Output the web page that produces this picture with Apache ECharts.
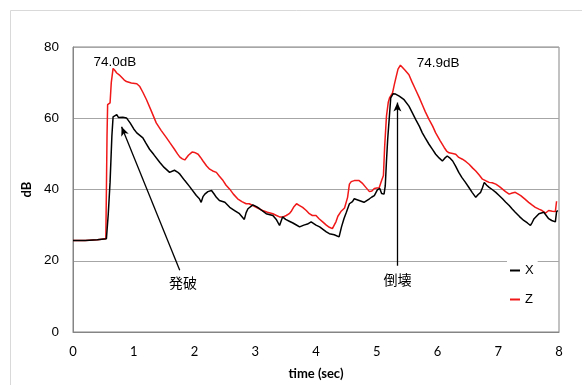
<!DOCTYPE html>
<html><head><meta charset="utf-8">
<script src="https://cdn.jsdelivr.net/npm/echarts@6/dist/echarts.min.js"></script>
<style>html,body{margin:0;padding:0;background:#fff}#c{width:582px;height:385px}</style>
</head><body><div id="c"></div>
<script>
var seriesNames = ['X', 'Z'];
var xTicks = [0, 1, 2, 3, 4, 5, 6, 7, 8];
var yTicks = [0, 20, 40, 60, 80];
// [time (sec), dB]
var dataX = [[0,25.7],[0.2,25.7],[0.4,25.9],[0.55,26.2],[0.58,33],[0.61,42],[0.64,55],[0.66,60.4],[0.69,60.8],[0.72,61.0],[0.75,60.2],[0.78,60.6],[0.82,60.3],[0.88,60.1],[0.94,58.7],[1.0,57.0],[1.05,55.9],[1.1,55.2],[1.15,54.5],[1.2,53.0],[1.26,51.3],[1.33,49.8],[1.43,47.6],[1.5,46.2],[1.59,44.8],[1.67,45.4],[1.72,44.9],[1.76,44.3],[1.84,42.5],[1.92,40.8],[2.03,38.3],[2.08,37.4],[2.11,36.4],[2.14,38.0],[2.17,38.7],[2.22,39.4],[2.28,39.7],[2.32,38.8],[2.36,37.8],[2.41,36.9],[2.5,36.4],[2.58,35.0],[2.66,34.1],[2.74,33.2],[2.82,31.6],[2.85,33.5],[2.88,34.6],[2.96,35.7],[3.02,35.2],[3.07,34.6],[3.18,33.2],[3.29,32.7],[3.35,31.5],[3.4,29.9],[3.45,32.3],[3.5,31.6],[3.56,31.1],[3.62,30.6],[3.67,30.1],[3.73,29.5],[3.8,30.0],[3.86,30.3],[3.92,30.9],[4.0,30.0],[4.06,29.5],[4.17,28.1],[4.22,27.6],[4.3,27.3],[4.38,26.7],[4.42,29.5],[4.46,31.8],[4.5,33.6],[4.55,36.0],[4.6,36.6],[4.63,37.4],[4.71,36.9],[4.79,36.4],[4.82,36.4],[4.88,37.4],[4.92,37.9],[4.96,38.3],[5.01,39.9],[5.05,40.3],[5.08,38.9],[5.12,38.7],[5.14,41],[5.16,48],[5.18,54.1],[5.21,61],[5.23,65.7],[5.27,66.9],[5.31,66.8],[5.37,66.2],[5.45,65.2],[5.53,63.4],[5.58,61.7],[5.64,59.7],[5.7,57.8],[5.75,55.9],[5.8,54.4],[5.86,52.7],[5.92,51.2],[5.97,49.9],[6.03,48.8],[6.08,48.0],[6.12,48.8],[6.16,49.4],[6.2,48.9],[6.25,48.0],[6.3,46.5],[6.35,44.8],[6.4,43.4],[6.46,42.0],[6.52,40.5],[6.57,39.2],[6.63,37.8],[6.67,38.6],[6.71,39.2],[6.74,40.5],[6.77,42.0],[6.81,41.2],[6.85,40.6],[6.9,40.0],[6.96,39.2],[7.01,38.4],[7.07,37.4],[7.12,36.5],[7.18,35.5],[7.23,34.5],[7.28,33.6],[7.35,32.4],[7.42,31.3],[7.48,30.6],[7.53,29.9],[7.56,30.8],[7.59,31.8],[7.63,32.5],[7.67,33.2],[7.71,33.4],[7.75,33.6],[7.79,32.7],[7.83,31.8],[7.88,31.3],[7.94,30.9],[7.96,33.8],[7.98,34.1]];
var dataZ = [[0,25.7],[0.2,25.7],[0.4,25.9],[0.54,26.2],[0.55,40],[0.56,55],[0.57,63.8],[0.61,64.3],[0.63,70],[0.66,74.0],[0.69,73.4],[0.72,72.7],[0.76,72.2],[0.8,71.5],[0.84,70.8],[0.88,70.3],[0.96,69.9],[1.05,69.7],[1.1,68.9],[1.15,67.3],[1.21,65.2],[1.29,62.0],[1.37,58.7],[1.45,56.6],[1.54,54.5],[1.6,53.0],[1.67,51.3],[1.72,50.0],[1.76,49.1],[1.8,48.6],[1.84,48.3],[1.9,49.6],[1.96,50.5],[2.0,50.4],[2.06,49.9],[2.1,49.0],[2.14,48.0],[2.2,46.6],[2.25,45.7],[2.3,45.2],[2.36,44.8],[2.41,43.7],[2.47,42.5],[2.52,41.2],[2.58,40.1],[2.64,38.7],[2.71,37.4],[2.78,36.6],[2.85,36.0],[2.9,36.0],[2.96,35.5],[3.04,34.8],[3.12,34.1],[3.2,33.6],[3.29,33.2],[3.35,32.7],[3.4,32.3],[3.46,32.3],[3.51,32.7],[3.56,33.2],[3.59,33.8],[3.63,35.0],[3.68,36.0],[3.73,35.5],[3.78,35.0],[3.84,34.1],[3.89,33.2],[3.94,32.7],[4.0,32.7],[4.05,31.8],[4.11,30.9],[4.17,30.0],[4.22,29.4],[4.27,29.0],[4.3,29.0],[4.33,31.0],[4.36,32.5],[4.41,33.8],[4.47,34.8],[4.52,37.8],[4.55,41.5],[4.58,42.2],[4.63,42.5],[4.71,42.5],[4.76,41.8],[4.82,40.6],[4.88,39.4],[4.92,39.6],[4.96,40.3],[5.0,40.4],[5.04,40.5],[5.08,42.5],[5.11,43.9],[5.13,52],[5.16,60.6],[5.19,64.5],[5.21,65.7],[5.26,67.1],[5.29,69.5],[5.32,71.7],[5.35,73.8],[5.39,74.9],[5.42,74.5],[5.47,73.4],[5.53,72.2],[5.58,70.2],[5.64,68.0],[5.7,65.8],[5.75,63.8],[5.8,61.8],[5.86,59.7],[5.92,57.8],[5.97,55.9],[6.04,53.8],[6.11,51.8],[6.15,50.8],[6.19,50.3],[6.25,50.1],[6.3,49.9],[6.35,49.0],[6.41,48.5],[6.47,47.8],[6.52,47.1],[6.58,46.0],[6.63,45.2],[6.69,44.0],[6.74,42.9],[6.8,42.4],[6.85,42.0],[6.9,41.9],[6.96,41.5],[7.02,40.8],[7.07,40.1],[7.12,39.4],[7.18,38.7],[7.23,39.0],[7.28,39.2],[7.33,38.7],[7.37,38.3],[7.44,37.3],[7.5,36.4],[7.56,35.6],[7.61,35.0],[7.67,34.5],[7.72,34.1],[7.78,33.4],[7.83,34.1],[7.89,33.9],[7.94,33.8],[7.96,36.7],[7.97,36.7]];
// annotation anchors in data coordinates
var peakLabels = [{text:'74.0dB', at:[0.69, 75.6]}, {text:'74.9dB', at:[6.01, 75.3]}];
var eventLabels = [{text:'発破', at:[1.81, 13.8]}, {text:'倒壊', at:[5.34, 14.6]}];
var arrows = [{from:[1.757, 17.3], to:[0.80, 57.6]}, {from:[5.34, 18.6], to:[5.34, 64.4]}];

var chart = echarts.init(document.getElementById('c'), null, {renderer:'canvas'});
var axisFont = 'Lato, "Liberation Sans", sans-serif';
var option = {
  animation: false,
  backgroundColor: '#fff',
  grid: {left: 73, top: 47, right: 23, bottom: 51, show: true, borderColor: '#858585', borderWidth: 1, backgroundColor: 'transparent'},
  legend: {
    data: seriesNames, orient: 'vertical', left: 507, top: 259, icon: 'rect', itemWidth: 10, itemHeight: 2, itemGap: 16,
    backgroundColor: '#fff', padding: [5, 4, 5, 3],
    textStyle: {fontSize: 13, color: '#000', fontFamily: '"Liberation Sans", Arial, sans-serif'}
  },
  xAxis: {
    type: 'value', min: xTicks[0], max: xTicks[xTicks.length-1], interval: 1,
    name: 'time (sec)', nameLocation: 'middle', nameGap: 35,
    nameTextStyle: {fontSize: 13, fontWeight: 'bold', color: '#000', fontFamily: axisFont},
    axisLine: {show: true, lineStyle: {color: '#858585'}}, axisTick: {show: false},
    axisLabel: {fontSize: 13, color: '#000', margin: 13, fontFamily: axisFont},
    splitLine: {show: false}
  },
  yAxis: {
    type: 'value', min: yTicks[0], max: yTicks[yTicks.length-1], interval: 20,
    name: 'dB', nameLocation: 'middle', nameGap: 40, nameRotate: 90,
    nameTextStyle: {fontSize: 13, fontWeight: 'bold', color: '#000', fontFamily: axisFont},
    axisLine: {show: true, lineStyle: {color: '#858585'}}, axisTick: {show: false},
    axisLabel: {fontSize: 13.5, color: '#000', margin: 14, fontFamily: '"Liberation Sans", Arial, sans-serif'},
    splitLine: {show: true, lineStyle: {color: '#a6a6a6', width: 1}}
  },
  series: [
    {name: seriesNames[0], type: 'line', data: dataX, showSymbol: false, color: '#000', lineStyle: {color: '#000', width: 1.5}, z: 3,
     markLine: {silent: true, symbol: ['none', 'arrow'], symbolSize: [6, 9], label: {show: false}, emphasis: {disabled: true},
       lineStyle: {color: '#000', width: 1.3, type: 'solid'},
       data: arrows.map(function(a){ return [{coord: a.from}, {coord: a.to}]; })}},
    {name: seriesNames[1], type: 'line', data: dataZ, showSymbol: false, color: '#f01818', lineStyle: {color: '#f01818', width: 1.5}, z: 2}
  ]
};
chart.setOption(option);
var g = [{type: 'rect', shape: {x: 10.5, y: 10.5, width: 620, height: 420}, style: {fill: 'none', stroke: '#d9d9d9', lineWidth: 1}, z: -1}];
peakLabels.forEach(function(l){
  var p = chart.convertToPixel({gridIndex: 0}, l.at);
  g.push({type: 'text', x: p[0], y: p[1], style: {text: l.text, fill: '#000', font: '13.5px "Liberation Sans", Arial, sans-serif', align: 'center', verticalAlign: 'middle'}, z: 10});
});
eventLabels.forEach(function(l){
  var p = chart.convertToPixel({gridIndex: 0}, l.at);
  g.push({type: 'text', x: p[0], y: p[1], style: {text: l.text, fill: '#000', font: '14px "Noto Sans CJK JP", sans-serif', align: 'center', verticalAlign: 'middle'}, z: 10});
});
chart.setOption({graphic: g});
</script></body></html>
